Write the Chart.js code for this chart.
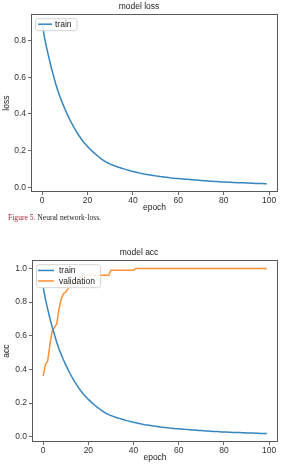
<!DOCTYPE html>
<html>
<head>
<meta charset="utf-8">
<script src="https://cdn.jsdelivr.net/npm/chart.js@4.4.0/dist/chart.umd.min.js"></script>
<style>
html,body{margin:0;padding:0;background:#fff;width:286px;height:469px;overflow:hidden;position:relative}
canvas{position:absolute;left:0}
#lossChart{top:0}
#accChart{top:245px}
#caption{position:absolute;left:8px;top:213px;font:7.6px "Liberation Serif","DejaVu Serif",serif;color:#222;white-space:nowrap}
#caption b{color:#a3262f;font-weight:normal}
</style>
</head>
<body>
<canvas id="lossChart" width="286" height="214"></canvas>
<div id="caption"><b>Figure 5.</b> Neural network-loss.</div>
<canvas id="accChart" width="286" height="224"></canvas>
<script>
// ===== data =====
const epochs = Array.from({length: 100}, (_, i) => i);

const trainLoss = [
  0.890,0.817,0.758,0.703,0.653,0.606,0.562,0.522,0.488,0.456,
  0.427,0.399,0.373,0.349,0.326,0.305,0.285,0.267,0.250,0.236,
  0.222,0.209,0.197,0.186,0.175,0.165,0.155,0.146,0.138,0.132,
  0.126,0.121,0.116,0.112,0.108,0.104,0.100,0.096,0.093,0.089,
  0.086,0.083,0.080,0.077,0.075,0.072,0.070,0.068,0.066,0.064,
  0.062,0.060,0.058,0.057,0.055,0.054,0.052,0.051,0.049,0.048,
  0.047,0.046,0.045,0.044,0.043,0.042,0.041,0.040,0.039,0.038,
  0.037,0.036,0.035,0.034,0.033,0.032,0.031,0.031,0.030,0.029,
  0.028,0.028,0.027,0.027,0.026,0.026,0.025,0.025,0.024,0.024,
  0.023,0.023,0.022,0.022,0.021,0.021,0.020,0.020,0.019,0.019
];

// the "train" curve in the acc plot is the same curve as the loss plot
const trainAcc = trainLoss.slice();

const valAcc = [
  0.36,0.43,0.45,0.55,0.63,0.65,0.67,0.76,0.82,0.85,
  0.86,0.88,0.90,0.91,0.92,0.93,0.94,0.95,0.96,0.96,
  0.96,0.96,0.96,0.96,0.96,0.96,0.96,0.96,0.96,0.96,
  0.99,0.99,0.99,0.99,0.99,0.99,0.99,0.99,0.99,0.99,
  0.99,1.00,1.00,1.00,1.00,1.00,1.00,1.00,1.00,1.00,
  1.00,1.00,1.00,1.00,1.00,1.00,1.00,1.00,1.00,1.00,
  1.00,1.00,1.00,1.00,1.00,1.00,1.00,1.00,1.00,1.00,
  1.00,1.00,1.00,1.00,1.00,1.00,1.00,1.00,1.00,1.00,
  1.00,1.00,1.00,1.00,1.00,1.00,1.00,1.00,1.00,1.00,
  1.00,1.00,1.00,1.00,1.00,1.00,1.00,1.00,1.00,1.00
];

const xTicks = [0, 20, 40, 60, 80, 100];
const lossTicks = [0, 0.2, 0.4, 0.6, 0.8];
const accTicks = [0, 0.2, 0.4, 0.6, 0.8, 1.0];

const BLUE = '#3585c0', ORANGE = '#fd8f35';
Chart.defaults.font.family = '"Liberation Sans", Arial, sans-serif';

// ===== axes box + matplotlib style legend (upper left) =====
const frameLegend = {
  id: 'frameLegend',
  afterDatasetsDraw(chart, args, o) {
    const {ctx, chartArea: a} = chart;
    ctx.save();
    ctx.strokeStyle = '#5a5a5a';
    ctx.lineWidth = 1;
    ctx.strokeRect(Math.round(a.left) + 0.5, Math.round(a.top) + 0.5, Math.round(a.width) - 1, Math.round(a.height) - 1);

    const sets = chart.data.datasets;
    ctx.font = '8.5px "Liberation Sans", Arial, sans-serif';
    let tw = 0;
    sets.forEach(d => { tw = Math.max(tw, ctx.measureText(d.label).width); });
    const bx = a.left + 4, by = a.top + 4;
    const bw = o.padL + o.lineLen + o.gap + tw + o.padR;
    const bh = sets.length * o.rowH + 2;
    ctx.fillStyle = 'rgba(255,255,255,0.85)';
    ctx.strokeStyle = '#d6d6d6';
    ctx.beginPath();
    ctx.roundRect(bx + 0.5, by + 0.5, bw, bh, 2);
    ctx.fill();
    ctx.stroke();
    ctx.textBaseline = 'middle';
    sets.forEach((d, i) => {
      const cy = by + 1 + o.rowH * (i + 0.5);
      ctx.strokeStyle = d.borderColor;
      ctx.lineWidth = 1.5;
      ctx.beginPath();
      ctx.moveTo(bx + o.padL, cy);
      ctx.lineTo(bx + o.padL + o.lineLen, cy);
      ctx.stroke();
      ctx.fillStyle = '#222';
      ctx.fillText(d.label, bx + o.padL + o.lineLen + o.gap, cy + 0.5);
    });
    ctx.restore();
  }
};

function lineSet(label, values, color){
  return {
    label,
    data: epochs.map((e, i) => ({x: e, y: values[i]})),
    borderColor: color,
    backgroundColor: color,
    borderWidth: 1.5,
    pointRadius: 0,
    tension: 0,
    fill: false
  };
}

function makeChart(id, c){
  return new Chart(document.getElementById(id).getContext('2d'), {
    type: 'line',
    data: { datasets: c.datasets },
    plugins: [frameLegend],
    options: {
      responsive: false,
      animation: false,
      layout: { padding: { left: 0, right: 8, top: 0, bottom: c.padBottom } },
      plugins: {
        legend: { display: false },
        tooltip: { enabled: false },
        title: {
          display: true, text: c.title, color: '#222',
          font: { size: 8.5, weight: 'normal' },
          padding: { top: c.titleTop, bottom: 2 }
        },
        frameLegend: c.legend
      },
      scales: {
        x: {
          type: 'linear', min: -4.95, max: 103.95,
          afterBuildTicks: s => { s.ticks = xTicks.map(v => ({value: v})); },
          afterFit: s => { s.height = c.xHeight; },
          grid: { drawOnChartArea: false, color: '#444', tickLength: 3, tickWidth: 0.8 },
          border: { display: false },
          ticks: { color: '#333', font: { size: 8.5 }, padding: 1, maxRotation: 0, autoSkip: false },
          title: { display: true, text: 'epoch', color: '#222', font: { size: 8.5 }, padding: { top: 0, bottom: 1 } }
        },
        y: {
          min: c.yMin, max: c.yMax,
          afterBuildTicks: s => { s.ticks = c.yTicks.map(v => ({value: v})); },
          afterFit: s => { s.width = c.yWidth; },
          grid: { drawOnChartArea: false, color: '#444', tickLength: 3, tickWidth: 0.8 },
          border: { display: false },
          ticks: { color: '#333', font: { size: 8.5 }, padding: 2, callback: v => v.toFixed(1) },
          title: { display: true, text: c.yTitle, color: '#222', font: { size: 8.5 }, padding: { top: 2, bottom: 0 } }
        }
      }
    }
  });
}

makeChart('lossChart', {
  title: 'model loss', yTitle: 'loss', titleTop: 2,
  yMin: -0.026, yMax: 0.944, yTicks: lossTicks,
  xHeight: 22, yWidth: 31, padBottom: 0,
  legend: { padL: 3, lineLen: 14, gap: 3, padR: 5, rowH: 10 },
  datasets: [lineSet('train', trainLoss, BLUE)]
});

makeChart('accChart', {
  title: 'model acc', yTitle: 'acc', titleTop: 3,
  yMin: -0.031, yMax: 1.049, yTicks: accTicks,
  xHeight: 22, yWidth: 32, padBottom: 5,
  legend: { padL: 2, lineLen: 16, gap: 5, padR: 5, rowH: 10.5 },
  datasets: [lineSet('train', trainAcc, BLUE), lineSet('validation', valAcc, ORANGE)]
});
</script>
</body>
</html>
